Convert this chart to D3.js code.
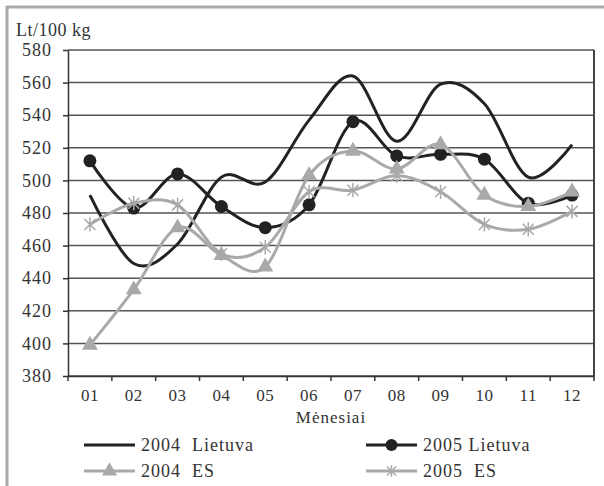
<!DOCTYPE html>
<html>
<head>
<meta charset="utf-8">
<script src="https://cdn.jsdelivr.net/npm/d3@7"></script>
<style>
html,body{margin:0;padding:0;background:#fff;}
svg{display:block;}
svg text{font-family:"Liberation Serif","Times New Roman",serif !important;fill:#333;}
</style>
</head>
<body>
<svg id="chart" width="604" height="486"></svg>
<script>
const months = ["01","02","03","04","05","06","07","08","09","10","11","12"];
const yTicks = [380,400,420,440,460,480,500,520,540,560,580];
const lietuva2004 = [491, 449, 461, 502, 499, 537, 564, 524, 559, 547, 502, 522];
const lietuva2005 = [512, 483, 504, 484, 471, 485, 536, 515, 516, 513, 486, 491];
const es2004 = [399, 433, 471, 454, 447, 503, 518, 507, 522, 491, 484, 493];
const es2005 = [473, 486, 485, 455, 459, 493, 494, 503, 493, 473, 470, 481];
const seriesNames = ["2004  Lietuva","2005 Lietuva","2004  ES","2005  ES"];
const yTitle = "Lt/100 kg";
const xTitle = "Mėnesiai";

const FONT = '"Liberation Serif", "Times New Roman", serif';
const svg = d3.select("#chart");
const L = 68, R = 594, T = 50, B = 376;

// outer frame
svg.append("line").attr("x1",6).attr("x2",604).attr("y1",7).attr("y2",7).attr("stroke","#aaa").attr("stroke-width",3);
svg.append("line").attr("x1",7).attr("x2",7).attr("y1",6).attr("y2",486).attr("stroke","#aaa").attr("stroke-width",3);

const x = d3.scaleBand().domain(months).range([L,R]).padding(0);
const xc = d => x(d) + x.bandwidth()/2;
const y = d3.scaleLinear().domain([380,580]).range([B,T]);

// grid
svg.append("g").selectAll("line").data(yTicks).join("line")
  .attr("x1",L).attr("x2",R).attr("y1",d=>y(d)).attr("y2",d=>y(d))
  .attr("stroke","#555").attr("stroke-width",1.5);
// right border
svg.append("line").attr("x1",R).attr("x2",R).attr("y1",T).attr("y2",B).attr("stroke","#444").attr("stroke-width",2);

// y axis
const yAxis = svg.append("g").attr("transform",`translate(${L},0)`)
  .call(d3.axisLeft(y).tickValues(yTicks).tickSize(5).tickPadding(11).tickSizeOuter(0));
yAxis.attr("font-family",null);
yAxis.select(".domain").attr("stroke","#333").attr("stroke-width",1.5);
yAxis.selectAll(".tick line").attr("stroke","#333").attr("stroke-width",1.5);
yAxis.selectAll("text").style("font-size","18px").style("font-family",FONT).style("letter-spacing","1px").attr("fill","#333");

// x axis
const xAxis = svg.append("g").attr("transform",`translate(0,${B})`)
  .call(d3.axisBottom(x).tickSize(0).tickPadding(13));
xAxis.attr("font-family",null);
xAxis.select(".domain").attr("stroke","#333").attr("stroke-width",1.5);
xAxis.selectAll("text").style("font-size","17px").style("font-family",FONT).style("letter-spacing","0.5px").attr("fill","#333");
// boundary ticks
const bounds = months.map(m=>x(m)).concat([R]);
svg.append("g").selectAll("line").data(bounds).join("line")
  .attr("x1",d=>d).attr("x2",d=>d).attr("y1",B).attr("y2",B+5)
  .attr("stroke","#333").attr("stroke-width",1.5);

svg.append("text").attr("x",16).attr("y",36).style("font-size","18px").style("font-family",FONT).style("letter-spacing","0.5px").text(yTitle);
svg.append("text").attr("x",(L+R)/2).attr("y",423).attr("text-anchor","middle").style("font-size","17px").style("font-family",FONT).style("letter-spacing","1px").text(xTitle);

const line = d3.line().x((d,i)=>xc(months[i])).y(d=>y(d)).curve(d3.curveCatmullRom.alpha(0));

const dark = "#222", gray = "#a9a9a9";
function triPath(s){ return d3.symbol().type(d3.symbolTriangle).size(s)(); }
function starPath(r){
  return `M${-r},${-r}L${r},${r}M${-r},${r}L${r},${-r}M0,${-r*1.3}L0,${r*1.3}`;
}

// 2004 Lietuva
svg.append("path").attr("d",line(lietuva2004)).attr("fill","none").attr("stroke",dark).attr("stroke-width",3);
// 2005 Lietuva
svg.append("path").attr("d",line(lietuva2005)).attr("fill","none").attr("stroke",dark).attr("stroke-width",3);
svg.append("g").selectAll("circle").data(lietuva2005).join("circle")
  .attr("cx",(d,i)=>xc(months[i])).attr("cy",d=>y(d)).attr("r",6.5).attr("fill",dark);
// 2004 ES
svg.append("path").attr("d",line(es2004)).attr("fill","none").attr("stroke",gray).attr("stroke-width",3);
svg.append("g").selectAll("path").data(es2004).join("path")
  .attr("d",triPath(110)).attr("transform",(d,i)=>`translate(${xc(months[i])},${y(d)})`).attr("fill",gray);
// 2005 ES
svg.append("path").attr("d",line(es2005)).attr("fill","none").attr("stroke",gray).attr("stroke-width",3);
svg.append("g").selectAll("path").data(es2005).join("path")
  .attr("d",starPath(5.5)).attr("transform",(d,i)=>`translate(${xc(months[i])},${y(d)})`)
  .attr("fill","none").attr("stroke",gray).attr("stroke-width",1.5);

// legend
const leg = [
  {name:seriesNames[0], x:84, y:445, color:dark, marker:null},
  {name:seriesNames[1], x:366, y:445, color:dark, marker:"circle"},
  {name:seriesNames[2], x:84, y:471, color:gray, marker:"tri"},
  {name:seriesNames[3], x:366, y:471, color:gray, marker:"star"}
];
const lg = svg.append("g").selectAll("g").data(leg).join("g").attr("transform",d=>`translate(${d.x},${d.y})`);
lg.append("line").attr("x1",0).attr("x2",51).attr("y1",0).attr("y2",0).attr("stroke",d=>d.color).attr("stroke-width",3);
lg.each(function(d){
  const g = d3.select(this);
  if(d.marker==="circle") g.append("circle").attr("cx",25.5).attr("r",6).attr("fill",d.color);
  if(d.marker==="tri") g.append("path").attr("d",triPath(100)).attr("transform","translate(25.5,0)").attr("fill",d.color);
  if(d.marker==="star") g.append("path").attr("d",starPath(4.5)).attr("transform","translate(25.5,0)").attr("fill","none").attr("stroke",d.color).attr("stroke-width",1.5);
});
lg.append("text").attr("x",57).attr("y",6).style("font-size","18px").style("font-family",FONT).style("letter-spacing","1px").style("white-space","pre").text(d=>d.name);
</script>
</body>
</html>
